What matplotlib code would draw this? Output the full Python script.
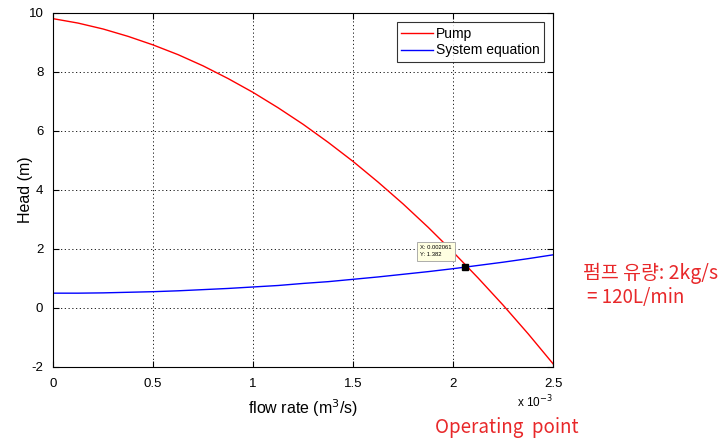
import matplotlib.pyplot as plt

# flow rate in units of 1e-3 m^3/s
flow = [0, 0.125, 0.25, 0.375, 0.5, 0.625, 0.75, 0.875, 1.0, 1.125, 1.25,
        1.375, 1.5, 1.625, 1.75, 1.875, 2.0, 2.125, 2.25, 2.375, 2.5]
pump_head = [9.80, 9.65, 9.45, 9.20, 8.91, 8.58, 8.20, 7.77, 7.30, 6.78, 6.22,
             5.61, 4.96, 4.26, 3.52, 2.73, 1.89, 1.01, 0.09, -0.88, -1.90]
system_head = [0.50, 0.50, 0.51, 0.53, 0.55, 0.58, 0.62, 0.66, 0.71, 0.76, 0.83,
               0.89, 0.97, 1.05, 1.14, 1.23, 1.33, 1.44, 1.55, 1.67, 1.80]
op_x, op_y = 2.061, 1.382

plt.rcParams['font.family'] = ['Liberation Sans', 'DejaVu Sans']
plt.rcParams['axes.unicode_minus'] = False

fig = plt.figure(figsize=(7.27, 4.4), dpi=100)
ax = fig.add_axes([0.073, 0.166, 0.688, 0.805])

ax.plot(flow, pump_head, color='red', lw=1.0, label='Pump')
ax.plot(flow, system_head, color='blue', lw=1.0, label='System equation')
ax.plot(op_x, op_y, 's', color='black', ms=4)

ax.set_xlim(0, 2.5)
ax.set_ylim(-2, 10)
ax.set_xticks([0, 0.5, 1, 1.5, 2, 2.5])
ax.set_xticklabels(['0', '0.5', '1', '1.5', '2', '2.5'])
ax.set_yticks([-2, 0, 2, 4, 6, 8, 10])
ax.tick_params(direction='in', labelsize=9.5, top=True, right=True, length=4)
ax.tick_params(axis='x', pad=8)
ax.tick_params(axis='y', pad=7)
ax.grid(True, color='black', linestyle=(0, (1.5, 3)), lw=0.6)

ax.set_xlabel('flow rate (m$^3$/s)', fontsize=11.5, labelpad=5)
ax.set_ylabel('Head (m)', fontsize=11.5, labelpad=-3)
ax.text(1.0, -0.075, 'x 10$^{-3}$', transform=ax.transAxes, ha='right', va='top', fontsize=8.5)

leg = ax.legend(loc='upper right', fontsize=10, fancybox=False, edgecolor='black',
                handlelength=2.3, handletextpad=0.2, borderpad=0.3, labelspacing=0.2,
                borderaxespad=0.7)
leg.get_frame().set_linewidth(0.8)

# data tip
ax.text(1.835, 1.92, 'X: 0.002061\nY: 1.382', fontsize=4.2, va='center', ha='left',
        linespacing=1.5,
        bbox=dict(boxstyle='square,pad=0.6', fc='#ffffe1', ec='#a0a0a0', lw=0.6))

red = '#e8282a'
fig.text(0.802, 0.378, '펌프 유량: 2kg/s', color=red, fontsize=14,
         family=['Noto Sans CJK KR', 'DejaVu Sans'], va='center')
fig.text(0.808, 0.323, '= 120L/min', color=red, fontsize=13.5,
         family=['Noto Sans CJK KR', 'DejaVu Sans'], va='center')
fig.text(0.697, 0.028, 'Operating  point', color=red, fontsize=13.5,
         family=['Noto Sans CJK KR', 'DejaVu Sans'], ha='center', va='center')

fig.savefig('out.png', dpi=100, facecolor='white')
